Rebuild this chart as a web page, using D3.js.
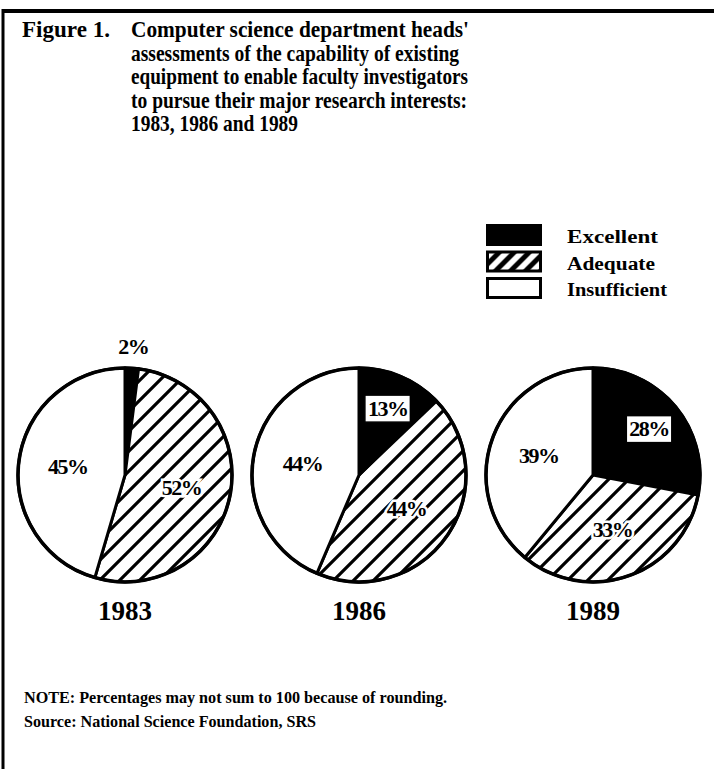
<!DOCTYPE html>
<html>
<head>
<meta charset="utf-8">
<script src="https://cdn.jsdelivr.net/npm/d3@7/dist/d3.min.js"></script>
<style>
  body { margin: 0; background: #fff; }
</style>
</head>
<body>
<div id="vis"></div>
<script>
// chart data
var years = ['1983', '1986', '1989'];
var categories = ['Excellent', 'Adequate', 'Insufficient'];
var excellent = [2, 13, 28];
var adequate = [52, 44, 33];
var insufficient = [45, 44, 39];

var titleLead = 'Figure 1.';
var titleLines = [
  "Computer science department heads'",
  'assessments of the capability of existing',
  'equipment to enable faculty investigators',
  'to pursue their major research interests:',
  '1983, 1986 and 1989'
];
var titleWidths = [338, 328, 337, 336, 167];
var noteLines = [
  'NOTE:  Percentages may not sum to 100 because of rounding.',
  'Source:  National Science Foundation, SRS'
];
var noteWidths = [423, 292];

var width = 714;
var height = 769;
var serif = '"Liberation Serif", "Times New Roman", serif';

var svg = d3.select('#vis')
  .append('svg')
  .attr('width', width)
  .attr('height', height);

// hatch patterns: one for the pies, a heavier one for the legend swatch
var defs = svg.append('defs');
function hatch(id, size, sw) {
  var p = defs.append('pattern')
    .attr('id', id)
    .attr('patternUnits', 'userSpaceOnUse')
    .attr('width', size)
    .attr('height', size);
  p.append('rect').attr('width', size).attr('height', size).attr('fill', '#fff');
  p.append('path')
    .attr('d', 'M0,' + size + 'L' + size + ',0' +
      'M' + (-size / 4) + ',' + (size / 4) + 'L' + (size / 4) + ',' + (-size / 4) +
      'M' + (size * 3 / 4) + ',' + (size * 5 / 4) + 'L' + (size * 5 / 4) + ',' + (size * 3 / 4))
    .attr('stroke', '#000')
    .attr('stroke-width', sw);
}
hatch('hatch', 20, 3.2);
hatch('hatch-legend', 15, 5);

var fills = d3.scaleOrdinal()
  .domain(categories)
  .range(['#000', 'url(#hatch)', '#fff']);

// frame: heavy top rule and left rule
svg.append('line')
  .attr('x1', 2).attr('x2', width).attr('y1', 11).attr('y2', 11)
  .attr('stroke', '#000').attr('stroke-width', 4);
svg.append('line')
  .attr('x1', 3).attr('x2', 3).attr('y1', 9).attr('y2', height)
  .attr('stroke', '#000').attr('stroke-width', 3);

// title
svg.append('text')
  .attr('x', 22).attr('y', 37)
  .attr('font-family', serif).attr('font-weight', 'bold').attr('font-size', 24)
  .attr('textLength', 88).attr('lengthAdjust', 'spacingAndGlyphs')
  .text(titleLead);

svg.selectAll('.title')
  .data(titleLines)
  .enter().append('text')
  .attr('class', 'title')
  .attr('x', 131)
  .attr('y', function (d, i) { return 37 + i * 23.6; })
  .attr('font-family', serif)
  .attr('font-weight', 'bold')
  .attr('font-size', 24)
  .attr('textLength', function (d, i) { return titleWidths[i]; })
  .attr('lengthAdjust', 'spacingAndGlyphs')
  .text(function (d) { return d; });

// legend
var legend = svg.append('g').attr('transform', 'translate(486,224)');
var legendItems = legend.selectAll('g')
  .data(categories)
  .enter().append('g')
  .attr('transform', function (d, i) { return 'translate(0,' + (i * 26.5) + ')'; });

legendItems.append('rect')
  .attr('x', 1.5).attr('y', 1.5)
  .attr('width', 53).attr('height', 19)
  .attr('fill', function (d, i) { return i === 1 ? 'url(#hatch-legend)' : fills(d); })
  .attr('stroke', '#000')
  .attr('stroke-width', 3);

legendItems.append('text')
  .attr('x', 81)
  .attr('y', 19)
  .attr('font-family', serif)
  .attr('font-size', 18)
  .attr('font-weight', 'bold')
  .attr('textLength', function (d) { return d === 'Excellent' ? 91 : d === 'Adequate' ? 88 : 100; })
  .attr('lengthAdjust', 'spacingAndGlyphs')
  .text(function (d) { return d; });

// pies
var radius = 107;
var cy = 475;
var x = d3.scalePoint().domain(years).range([125, 593]);

var pie = d3.pie()
  .sort(null)
  .value(function (d) { return d.value; });

var arc = d3.arc().innerRadius(0).outerRadius(radius);

years.forEach(function (year, yi) {
  var data = [
    { cat: categories[0], value: excellent[yi] },
    { cat: categories[1], value: adequate[yi] },
    { cat: categories[2], value: insufficient[yi] }
  ];
  var arcs = pie(data);

  var g = svg.append('g')
    .attr('transform', 'translate(' + x(year) + ',' + cy + ')');

  g.selectAll('path')
    .data(arcs)
    .enter().append('path')
    .attr('d', arc)
    .attr('fill', function (d) { return fills(d.data.cat); })
    .attr('stroke', '#000')
    .attr('stroke-width', 3)
    .attr('stroke-linejoin', 'round');

  g.append('circle')
    .attr('r', radius)
    .attr('fill', 'none')
    .attr('stroke', '#000')
    .attr('stroke-width', 3.5);

  // labels: small slices sit outside, boxed on the black slice, else inside
  arcs.forEach(function (d) {
    var r;
    if (d.data.value < 5) r = radius + 22;
    else if (d.data.cat === 'Excellent') r = radius * 0.68;
    else r = radius * 0.54;
    var c = d3.arc().innerRadius(r).outerRadius(r).centroid(d);

    var t = g.append('text')
      .attr('x', c[0])
      .attr('y', c[1])
      .attr('dy', '0.35em')
      .attr('text-anchor', 'middle')
      .attr('font-family', serif)
      .attr('font-weight', 'bold')
      .attr('font-size', 22)
      .attr('letter-spacing', -1.5)
      .attr('stroke', '#fff')
      .attr('stroke-width', d.data.cat === 'Adequate' ? 5 : 0)
      .attr('paint-order', 'stroke')
      .text(d.data.value + '%');

    if (d.data.cat === 'Excellent' && d.data.value >= 5) {
      var b = t.node().getBBox();
      g.insert('rect', function () { return t.node(); })
        .attr('x', b.x - 3).attr('y', c[1] - 13)
        .attr('width', b.width + 6).attr('height', 27)
        .attr('fill', '#fff')
        .attr('stroke', '#000')
        .attr('stroke-width', 1.5);
    }
  });

  svg.append('text')
    .attr('x', x(year))
    .attr('y', 620)
    .attr('text-anchor', 'middle')
    .attr('font-family', serif)
    .attr('font-weight', 'bold')
    .attr('font-size', 27)
    .text(year);
});

// notes
svg.selectAll('.note')
  .data(noteLines)
  .enter().append('text')
  .attr('class', 'note')
  .attr('x', 24)
  .attr('y', function (d, i) { return 703 + i * 24; })
  .attr('font-family', serif)
  .attr('font-weight', 'bold')
  .attr('font-size', 16)
  .attr('textLength', function (d, i) { return noteWidths[i]; })
  .attr('lengthAdjust', 'spacingAndGlyphs')
  .text(function (d) { return d; });
</script>
</body>
</html>
